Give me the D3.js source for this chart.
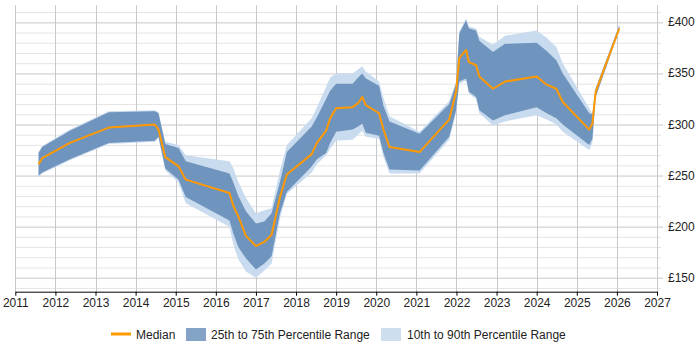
<!DOCTYPE html>
<html>
<head>
<meta charset="utf-8">
<script src="https://cdn.jsdelivr.net/npm/d3@7"></script>
<style>
  body { margin: 0; background: #fff; }
  svg { display: block; font-family: "Liberation Sans", Arial, sans-serif; }
</style>
</head>
<body>
<svg id="chart" width="700" height="350"></svg>
<script>
// decimal years of each sample
const dates = [2011.58, 2011.67, 2012.36, 2013.33, 2014.48, 2014.57, 2014.74, 2015.07, 2015.25,
  2016.34, 2016.44, 2016.56, 2016.75, 2017.0, 2017.21, 2017.39, 2017.6, 2017.77,
  2018.39, 2018.52, 2018.75, 2018.85, 2019.0, 2019.41, 2019.55, 2019.65, 2019.74,
  2020.07, 2020.18, 2020.33, 2021.08, 2021.82, 2021.99, 2022.07, 2022.24, 2022.31,
  2022.49, 2022.57, 2022.91, 2023.21, 2024.0, 2024.25, 2024.49, 2024.65, 2025.31,
  2025.39, 2025.47, 2026.06];
const p10 = [249, 252, 265, 281, 283, 287, 255, 243, 223, 200, 182, 168, 156, 150, 157, 164, 208, 232,
  253, 261, 270, 276, 284, 285, 290, 294, 288, 286, 268, 252, 252, 285, 312, 340, 343, 330,
  325, 311, 299, 303, 309, 305, 300, 293, 275, 282, 326, 392];
const p25 = [250, 253, 266, 282, 284, 288, 257, 246, 229, 206, 193, 180, 169, 158, 164, 171, 213, 234,
  259, 266, 272, 282, 293, 295, 298, 301, 292, 289, 272, 256, 255, 288, 314, 342, 345, 332,
  327, 314, 304, 309, 317, 311, 306, 300, 280, 286, 327, 393];
const median = [261, 267, 282, 297, 300, 295, 268, 259, 246, 233, 220, 210, 191, 181, 185, 192, 229, 251,
  271, 282, 294, 306, 316, 317, 321, 327, 319, 311, 295, 278, 273, 305, 332, 365, 373, 361,
  358, 347, 335, 342, 347, 339, 335, 322, 295, 301, 332, 394];
const p75 = [272, 278, 294, 312, 313, 311, 281, 277, 264, 252, 243, 230, 215, 203, 205, 213, 244, 273,
  298, 307, 325, 333, 340, 340, 346, 350, 345, 338, 318, 303, 291, 320, 340, 389, 402, 394,
  392, 382, 371, 379, 380, 372, 363, 350, 311, 310, 335, 397];
const p90 = [273, 279, 295, 313, 314, 312, 283, 280, 270, 264, 257, 244, 228, 213, 216, 218, 255, 280,
  306, 317, 337, 346, 350, 350, 354, 357, 352, 342, 326, 308, 293, 323, 342, 391, 404, 396,
  394, 386, 378, 387, 392, 385, 376, 360, 316, 311, 336, 398];

const yearTicks = d3.range(2011, 2028);
const priceTicks = [150, 200, 250, 300, 350, 400];
const legendItems = ["Median", "25th to 75th Percentile Range", "10th to 90th Percentile Range"];

const svg = d3.select("#chart");
const x = d3.scaleLinear().domain([2011, 2027]).range([15.3, 657]);
const y = d3.scaleLinear().domain([136.3, 417]).range([291.7, 5]);

const rows = dates.map((d, i) => ({
  d, p10: p10[i], p25: p25[i], med: median[i], p75: p75[i], p90: p90[i],
}));

// grid
const grid = svg.append("g");
grid.selectAll("line.h")
  .data(d3.range(140, 411, 10))
  .enter()
  .append("line")
  .attr("x1", x(2011))
  .attr("x2", function(d) { return d % 50 === 0 ? x(2027) + 6 : x(2027) + 4; })
  .attr("y1", d => y(d) + 0.5)
  .attr("y2", d => y(d) + 0.5)
  .attr("stroke", d => (d % 50 === 0 ? "#c8c8c8" : "#e4e4e4"))
  .attr("stroke-width", 1);

grid.selectAll("line.v")
  .data(yearTicks)
  .enter()
  .append("line")
  .attr("x1", d => Math.round(x(d)) + 0.5)
  .attr("x2", d => Math.round(x(d)) + 0.5)
  .attr("y1", y.range()[1])
  .attr("y2", y.range()[0])
  .attr("stroke", "#c8c8c8")
  .attr("stroke-width", 1);

// bands
const area = (lo, hi) => d3.area()
  .x(r => x(r.d))
  .y0(r => y(r[lo]))
  .y1(r => y(r[hi]));

svg.append("path")
  .datum(rows)
  .attr("d", area("p10", "p90"))
  .attr("fill", "#c9dbee");

svg.append("path")
  .datum(rows)
  .attr("d", area("p25", "p75"))
  .attr("fill", "#6f94bd");

svg.append("path")
  .datum(rows)
  .attr("d", d3.line().x(r => x(r.d)).y(r => y(r.med)))
  .attr("fill", "none")
  .attr("stroke", "#ff9900")
  .attr("stroke-width", 2)
  .attr("stroke-linejoin", "round");

// x axis
const xAxis = svg.append("g")
  .attr("transform", "translate(0," + y.range()[0] + ")")
  .call(d3.axisBottom(x).tickValues(yearTicks).tickFormat(d3.format("d")).tickSize(4).tickSizeOuter(0));
xAxis.select(".domain").attr("stroke", "#000");
xAxis.selectAll(".tick line").attr("stroke", "#000");
xAxis.selectAll("text")
  .attr("font-size", "12px")
  .attr("font-family", "Liberation Sans, Arial, sans-serif")
  .attr("fill", "#222")
  .attr("dy", "0.71em")
  .attr("y", 7);

// y labels on right
svg.append("g")
  .selectAll("text")
  .data(priceTicks)
  .enter()
  .append("text")
  .text(d => "£" + d)
  .attr("x", x(2027) + 11)
  .attr("y", d => y(d) + 4)
  .attr("font-size", "12px")
  .attr("fill", "#222");

// legend
const lg = svg.append("g").attr("font-size", "12px").attr("fill", "#222");
lg.append("line")
  .attr("x1", 111).attr("x2", 131)
  .attr("y1", 334).attr("y2", 334)
  .attr("stroke", "#ff9900").attr("stroke-width", 3);
lg.append("text").text(legendItems[0]).attr("x", 136).attr("y", 338.5);
lg.append("rect").attr("x", 186).attr("y", 328).attr("width", 20).attr("height", 13)
  .attr("fill", "#84a4c7");
lg.append("text").text(legendItems[1]).attr("x", 211).attr("y", 338.5);
lg.append("rect").attr("x", 381).attr("y", 328).attr("width", 20).attr("height", 13)
  .attr("fill", "#cfdeee");
lg.append("text").text(legendItems[2]).attr("x", 407).attr("y", 338.5);
</script>
</body>
</html>
